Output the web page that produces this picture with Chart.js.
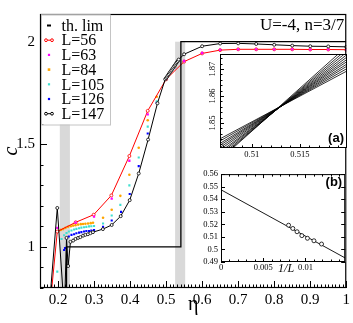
<!DOCTYPE html>
<html>
<head>
<meta charset="utf-8">
<script src="https://cdn.jsdelivr.net/npm/chart.js@4.4.0/dist/chart.umd.min.js"></script>
<style>
  html, body { margin: 0; padding: 0; background: #fff; }
  #wrap { position: relative; width: 353px; height: 323px; }
  canvas { position: absolute; }
  #main { left: 0; top: 0; }
  #insetA { left: 195px; top: 48px; }
  #insetB { left: 190px; top: 166px; }
</style>
</head>
<body>
<div id="wrap">
  <canvas id="main" width="353" height="323"></canvas>
  <canvas id="insetA" width="155" height="115"></canvas>
  <canvas id="insetB" width="160" height="112"></canvas>
</div>
<script>
// ---- main panel data: c(eta) for each chain length L ----
const eta56 = [0.17, 0.198, 0.249, 0.299, 0.348, 0.398, 0.449, 0.5, 0.55, 0.6, 0.65, 0.7, 0.75, 0.8, 0.85, 0.9, 0.95, 1.0];
const c56   = [0.57, 1.075, 1.12, 1.157, 1.251, 1.443, 1.663, 1.817, 1.903, 1.943, 1.959, 1.963, 1.963, 1.963, 1.963, 1.962, 1.962, 1.961];

const eta63 = [0.198, 0.249, 0.3, 0.349, 0.398, 0.449, 0.5, 0.55, 0.6, 0.65, 0.7, 0.75, 0.8, 0.85, 0.9, 0.95, 1.0];
const c63   = [1.093, 1.118, 1.148, 1.235, 1.42, 1.646, 1.82, 1.906, 1.945, 1.96, 1.963, 1.963, 1.963, 1.963, 1.962, 1.962, 1.961];

const eta84 = [0.2005, 0.2079, 0.2143, 0.2208, 0.228, 0.2355, 0.2419, 0.2484, 0.2557, 0.2631, 0.2695, 0.276, 0.2833, 0.2907, 0.2971, 0.325, 0.349, 0.373, 0.398, 0.424, 0.449, 0.474, 0.5, 0.525];
const c84   = [1.075, 1.083, 1.087, 1.093, 1.098, 1.101, 1.104, 1.106, 1.109, 1.111, 1.112, 1.113, 1.114, 1.116, 1.118, 1.142, 1.181, 1.249, 1.352, 1.483, 1.617, 1.732, 1.822, 1.880];

const eta105 = [0.198, 0.2098, 0.2171, 0.2236, 0.23, 0.2374, 0.2447, 0.2511, 0.2585, 0.2649, 0.2723, 0.2787, 0.2861, 0.2925, 0.30, 0.325, 0.349, 0.373, 0.398, 0.424, 0.449, 0.474, 0.5, 0.525];
const c105   = [0.88, 1.039, 1.057, 1.068, 1.075, 1.080, 1.085, 1.088, 1.091, 1.094, 1.096, 1.098, 1.100, 1.101, 1.102, 1.114, 1.153, 1.205, 1.30, 1.436, 1.586, 1.71, 1.815, 1.878];

const eta126 = [0.217, 0.2195, 0.2236, 0.23, 0.2374, 0.2447, 0.2511, 0.2585, 0.2649, 0.2723, 0.2787, 0.2861, 0.2925, 0.30, 0.325, 0.349, 0.375, 0.399, 0.424, 0.449, 0.474, 0.5, 0.525];
const c126   = [0.985, 0.995, 1.041, 1.051, 1.059, 1.062, 1.067, 1.070, 1.072, 1.075, 1.078, 1.078, 1.080, 1.082, 1.098, 1.129, 1.171, 1.258, 1.394, 1.553, 1.702, 1.815, 1.876];

const eta147 = [0.17, 0.198, 0.2177, 0.2236, 0.228, 0.2346, 0.242, 0.2485, 0.2557, 0.262, 0.2696, 0.276, 0.283, 0.29, 0.297, 0.3246, 0.349, 0.374, 0.399, 0.424, 0.45, 0.476,
                0.4975, 0.5, 0.5025, 0.505, 0.5075, 0.51, 0.5125, 0.515, 0.5175, 0.52, 0.5225, 0.525, 0.5275, 0.53, 0.5325, 0.535,
                0.55, 0.6, 0.65, 0.7, 0.75, 0.8, 0.85, 0.9, 0.95, 1.0];
const c147   = [0.58, 1.19, 0.68, 1.044, 0.907, 1.025, 1.031, 1.039, 1.044, 1.048, 1.055, 1.059, 1.062, 1.067, 1.072, 1.087, 1.107, 1.15, 1.228, 1.358, 1.523, 1.70,
                1.817, 1.823, 1.829, 1.836, 1.842, 1.849, 1.855, 1.861, 1.868, 1.874, 1.881, 1.887, 1.894, 1.900, 1.906, 1.913,
                1.939, 1.978, 1.991, 1.992, 1.989, 1.985, 1.981, 1.978, 1.977, 1.975];

// thermodynamic limit (step function)
const thLimEta = [0.2236, 0.2236, 0.541, 0.541, 1.0];
const thLimC   = [0.0, 1.0, 1.0, 2.0, 2.0];

const grayBands = [[0.205, 0.233], [0.525, 0.553]];
const bandTop = 2.0;

const xTicks = [0.2, 0.3, 0.4, 0.5, 0.6, 0.7, 0.8, 0.9, 1];
const yTicks = [1, 1.5, 2];

// ---- inset (a): zoom on the crossing ----
const insetAEta   = [0.5067, 0.5199];
const insetALeft  = [1.8441, 1.8433, 1.8424, 1.8417, 1.8409, 1.8401, 1.8392, 1.8385, 1.8377, 1.8370, 1.8364];
const insetARight = [1.8693, 1.8702, 1.8711, 1.8719, 1.8728, 1.8736, 1.8745, 1.8754, 1.8764, 1.8774, 1.8785];
const insetAXTicks = [0.51, 0.515];
const insetAYTicks = [1.85, 1.86, 1.87];

// ---- inset (b): crossing point vs 1/L ----
const invL    = [0.0080, 0.0085, 0.0090, 0.00957, 0.01023, 0.0110, 0.0119];
const etaCross = [0.5193, 0.5167, 0.5141, 0.5110, 0.5089, 0.5069, 0.5043];
const fitX = [0, 0.0147];
const fitY = [0.5475, 0.4932];
const insetBXTicks = [0, 0.005, 0.01];
const insetBXLabels = ['0', '0.005', '0.01'];
const insetBYTicks = [0.49, 0.5, 0.51, 0.52, 0.53, 0.54, 0.55, 0.56];
const insetBYLabels = ['0.49', '0.5', '0.51', '0.52', '0.53', '0.54', '0.55', '0.56'];

const sizes = [56, 63, 84, 105, 126, 147];
const colors = { 56: '#ff0000', 63: '#ff00ff', 84: '#ffa500', 105: '#40e0d0', 126: '#0000ff', 147: '#000000' };

Chart.defaults.font.family = "'Liberation Serif', 'DejaVu Serif', serif";
Chart.defaults.color = '#000';

function pts(xs, ys) { return xs.map((x, i) => ({ x: x, y: ys[i] })); }
function steps(a, b, step) {
  const out = [];
  for (let v = a; v <= b + step * 1e-6; v += step) out.push(v);
  return out;
}

function drawTicks(chart, t) {
  const { ctx, chartArea: a, scales: { x, y } } = chart;
  ctx.save();
  ctx.strokeStyle = '#000';
  ctx.lineWidth = 1;
  ctx.beginPath();
  const xt = (list, len) => list.forEach(v => {
    const p = Math.round(x.getPixelForValue(v)) + 0.5;
    ctx.moveTo(p, a.bottom); ctx.lineTo(p, a.bottom - len);
    if (t.mirror) { ctx.moveTo(p, a.top); ctx.lineTo(p, a.top + len); }
  });
  const yt = (list, len) => list.forEach(v => {
    const p = Math.round(y.getPixelForValue(v)) + 0.5;
    ctx.moveTo(a.left, p); ctx.lineTo(a.left + len, p);
    if (t.mirror) { ctx.moveTo(a.right, p); ctx.lineTo(a.right - len, p); }
  });
  xt(t.xMinor, t.minor); xt(t.xMajor, t.major);
  yt(t.yMinor, t.minor); yt(t.yMajor, t.major);
  ctx.stroke();
  ctx.lineWidth = t.frame;
  ctx.strokeRect(a.left + 0.5, a.top + 0.5, a.width - 1, a.height - 1);
  ctx.restore();
}

const whiteArea = {
  id: 'whiteArea',
  beforeDraw(chart) {
    const { ctx, chartArea: a } = chart;
    ctx.save(); ctx.fillStyle = '#fff';
    ctx.fillRect(a.left, a.top, a.width, a.height);
    ctx.restore();
  }
};

// ---- main chart ----
const mainDecor = {
  id: 'mainDecor',
  beforeDatasetsDraw(chart) {
    const { ctx, chartArea: a, scales: { x, y } } = chart;
    ctx.save();
    ctx.fillStyle = '#d9d9d9';
    grayBands.forEach(b => {
      const x0 = x.getPixelForValue(b[0]), x1 = x.getPixelForValue(b[1]);
      const yt = y.getPixelForValue(bandTop);
      ctx.fillRect(x0, yt, x1 - x0, a.bottom - yt);
    });
    ctx.restore();
  },
  afterDraw(chart) {
    const { ctx, chartArea: a } = chart;
    drawTicks(chart, {
      xMajor: xTicks, xMinor: steps(0.15, 1, 0.01),
      yMajor: yTicks, yMinor: steps(0.8, 2.1, 0.1),
      major: 7, minor: 3.5, frame: 1.2, mirror: false
    });
    // legend box
    ctx.save();
    const lx = a.left + 1, ly = a.top + 0.5, lw = 69, lh = 110;
    ctx.fillStyle = '#fff';
    ctx.fillRect(lx, ly, lw, lh);
    ctx.strokeStyle = '#c4c4c4';
    ctx.lineWidth = 1;
    ctx.strokeRect(lx + 0.5, ly + 0.5, lw, lh);
    const rows = ['th. lim'].concat(sizes.map(L => 'L=' + L));
    ctx.font = "16px 'Liberation Serif'";
    ctx.textBaseline = 'middle';
    ctx.textAlign = 'left';
    rows.forEach((label, i) => {
      const ry = ly + 11 + i * 14.7;
      const mx = lx + 8;
      ctx.fillStyle = '#000';
      ctx.fillText(label, lx + 20.5, ry + 1);
      if (i === 0) {
        ctx.fillRect(mx - 2, ry - 1, 4, 2);
        return;
      }
      const L = sizes[i - 1];
      const col = colors[L];
      if (L === 56 || L === 147) {
        ctx.strokeStyle = col; ctx.lineWidth = 1;
        ctx.beginPath(); ctx.moveTo(mx - 4, ry); ctx.lineTo(mx + 4, ry); ctx.stroke();
        [mx - 3, mx + 3].forEach(cx => {
          ctx.beginPath(); ctx.arc(cx, ry, 1.4, 0, 2 * Math.PI);
          ctx.fillStyle = '#fff'; ctx.fill(); ctx.stroke();
        });
      } else {
        ctx.fillStyle = col;
        const s = L === 84 ? 2.6 : 2.2;
        ctx.fillRect(mx - s / 2, ry - s / 2, s, s);
      }
    });
    ctx.restore();
    // parameter label
    ctx.save();
    ctx.font = "17px 'Liberation Serif'";
    ctx.fillStyle = '#000';
    ctx.textAlign = 'right';
    ctx.textBaseline = 'alphabetic';
    ctx.fillText('U=-4, n=3/7', a.right - 2, a.top + 16);
    ctx.restore();
  }
};

const lineSet = (L, xs, ys) => ({
  data: pts(xs, ys), showLine: true, borderColor: colors[L], borderWidth: 1,
  pointRadius: 1.5, pointBorderWidth: 0.8, pointBackgroundColor: '#fff', pointBorderColor: colors[L], clip: 0
});
const dotSet = (L, xs, ys, style, r) => ({
  data: pts(xs, ys), showLine: false, pointStyle: style, pointRadius: r,
  pointBorderWidth: 0, backgroundColor: colors[L], borderColor: colors[L], clip: 0
});

new Chart(document.getElementById('main'), {
  type: 'scatter',
  data: {
    datasets: [
      { data: pts(thLimEta, thLimC), showLine: true, borderColor: '#000', borderWidth: 1.3, pointRadius: 0, clip: 0 },
      lineSet(147, eta147, c147),
      dotSet(63, eta63, c63, 'rect', 1.6),
      lineSet(56, eta56, c56),
      dotSet(84, eta84, c84, 'circle', 1.3),
      dotSet(105, eta105, c105, 'rect', 1.5),
      dotSet(126, eta126, c126, 'rect', 1.5)
    ]
  },
  options: {
    responsive: false, animation: false, devicePixelRatio: 1,
    layout: { padding: { top: 3, right: 4, left: 0, bottom: 0 } },
    plugins: { legend: { display: false }, tooltip: { enabled: false } },
    scales: {
      x: {
        type: 'linear', min: 0.15, max: 1,
        grid: { display: false, drawTicks: false }, border: { display: false },
        afterBuildTicks: s => { s.ticks = xTicks.map(v => ({ value: v })); },
        afterFit: s => { s.height = 35; },
        ticks: { padding: 3, font: { size: 15 }, maxRotation: 0, autoSkip: false, callback: v => String(v) },
        title: { display: true, text: 'η', font: { size: 20 }, padding: { top: 0, bottom: 6 } }
      },
      y: {
        type: 'linear', min: 0.8, max: 2.135,
        grid: { display: false, drawTicks: false }, border: { display: false },
        afterBuildTicks: s => { s.ticks = yTicks.map(v => ({ value: v })); },
        afterFit: s => { s.width = 40; },
        ticks: { padding: 5, font: { size: 15 }, autoSkip: false, callback: v => String(v) },
        title: { display: true, text: 'c', font: { size: 20, style: 'italic' }, padding: { top: 0, bottom: 0 } }
      }
    }
  },
  plugins: [mainDecor]
});

// ---- inset (a) ----
const insetADecor = {
  id: 'insetADecor',
  afterDraw(chart) {
    const { ctx, chartArea: a, scales: { y } } = chart;
    drawTicks(chart, {
      xMajor: insetAXTicks, xMinor: steps(0.507, 0.519, 0.001),
      yMajor: insetAYTicks, yMinor: steps(1.842, 1.874, 0.002),
      major: 4, minor: 2.5, frame: 1, mirror: false
    });
    ctx.save();
    ctx.font = "8.5px 'Liberation Serif'";
    ctx.fillStyle = '#000';
    ctx.textAlign = 'center';
    ctx.textBaseline = 'middle';
    insetAYTicks.forEach(v => {
      ctx.save();
      ctx.translate(a.left - 7, y.getPixelForValue(v));
      ctx.rotate(-Math.PI / 2);
      ctx.fillText(String(v), 0, 0);
      ctx.restore();
    });
    ctx.font = "bold 13px 'Liberation Sans'";
    ctx.textAlign = 'right';
    ctx.textBaseline = 'bottom';
    ctx.fillText('(a)', a.right - 3, a.bottom - 3);
    ctx.restore();
  }
};

new Chart(document.getElementById('insetA'), {
  type: 'scatter',
  data: {
    datasets: insetALeft.map((yl, i) => ({
      data: [{ x: insetAEta[0], y: yl }, { x: insetAEta[1], y: insetARight[i] }],
      showLine: true, borderColor: '#000', borderWidth: 0.8, pointRadius: 0, clip: 0
    }))
  },
  options: {
    responsive: false, animation: false, devicePixelRatio: 1,
    layout: { padding: { top: 6, right: 3, left: 0, bottom: 0 } },
    plugins: { legend: { display: false }, tooltip: { enabled: false } },
    scales: {
      x: {
        type: 'linear', min: 0.5067, max: 0.5199,
        grid: { display: false, drawTicks: false }, border: { display: false },
        afterBuildTicks: s => { s.ticks = insetAXTicks.map(v => ({ value: v })); },
        afterFit: s => { s.height = 15; },
        ticks: { padding: 2, font: { size: 8.5 }, maxRotation: 0, autoSkip: false, callback: v => String(v) }
      },
      y: {
        type: 'linear', min: 1.8407, max: 1.8756,
        grid: { display: false, drawTicks: false }, border: { display: false },
        afterFit: s => { s.width = 25; },
        ticks: { display: false }
      }
    }
  },
  plugins: [whiteArea, insetADecor]
});

// ---- inset (b) ----
const insetBDecor = {
  id: 'insetBDecor',
  afterDraw(chart) {
    const { ctx, chartArea: a, scales: { x } } = chart;
    drawTicks(chart, {
      xMajor: insetBXTicks, xMinor: steps(0, 0.014, 0.001),
      yMajor: insetBYTicks, yMinor: [],
      major: 4, minor: 2.5, frame: 1, mirror: true
    });
    ctx.save();
    ctx.fillStyle = '#000';
    ctx.font = "italic 12px 'Liberation Serif'";
    ctx.textAlign = 'center';
    ctx.textBaseline = 'middle';
    ctx.fillText('1/L', x.getPixelForValue(0.0077), a.bottom + 7);
    ctx.font = "bold 13px 'Liberation Sans'";
    ctx.textAlign = 'right';
    ctx.textBaseline = 'top';
    ctx.fillText('(b)', a.right - 3, a.top + 2);
    ctx.restore();
  }
};

new Chart(document.getElementById('insetB'), {
  type: 'scatter',
  data: {
    datasets: [
      { data: pts(invL, etaCross), showLine: false, pointRadius: 2, pointBorderWidth: 0.8,
        pointBackgroundColor: '#fff', pointBorderColor: '#000', clip: 0 },
      { data: pts(fitX, fitY), showLine: true, borderColor: '#000', borderWidth: 0.9, pointRadius: 0, clip: 0 }
    ]
  },
  options: {
    responsive: false, animation: false, devicePixelRatio: 1,
    layout: { padding: { top: 6, right: 3, left: 0, bottom: 0 } },
    plugins: { legend: { display: false }, tooltip: { enabled: false } },
    scales: {
      x: {
        type: 'linear', min: 0, max: 0.0147,
        grid: { display: false, drawTicks: false }, border: { display: false },
        afterBuildTicks: s => { s.ticks = insetBXTicks.map(v => ({ value: v })); },
        afterFit: s => { s.height = 16; },
        ticks: { padding: 1, font: { size: 8.5 }, maxRotation: 0, autoSkip: false,
                 callback: (v, i) => insetBXLabels[i] }
      },
      y: {
        type: 'linear', min: 0.49, max: 0.56,
        grid: { display: false, drawTicks: false }, border: { display: false },
        afterBuildTicks: s => { s.ticks = insetBYTicks.map(v => ({ value: v })); },
        afterFit: s => { s.width = 31; },
        ticks: { padding: 3, font: { size: 8.5 }, autoSkip: false, callback: (v, i) => insetBYLabels[i] }
      }
    }
  },
  plugins: [whiteArea, insetBDecor]
});
</script>
</body>
</html>
